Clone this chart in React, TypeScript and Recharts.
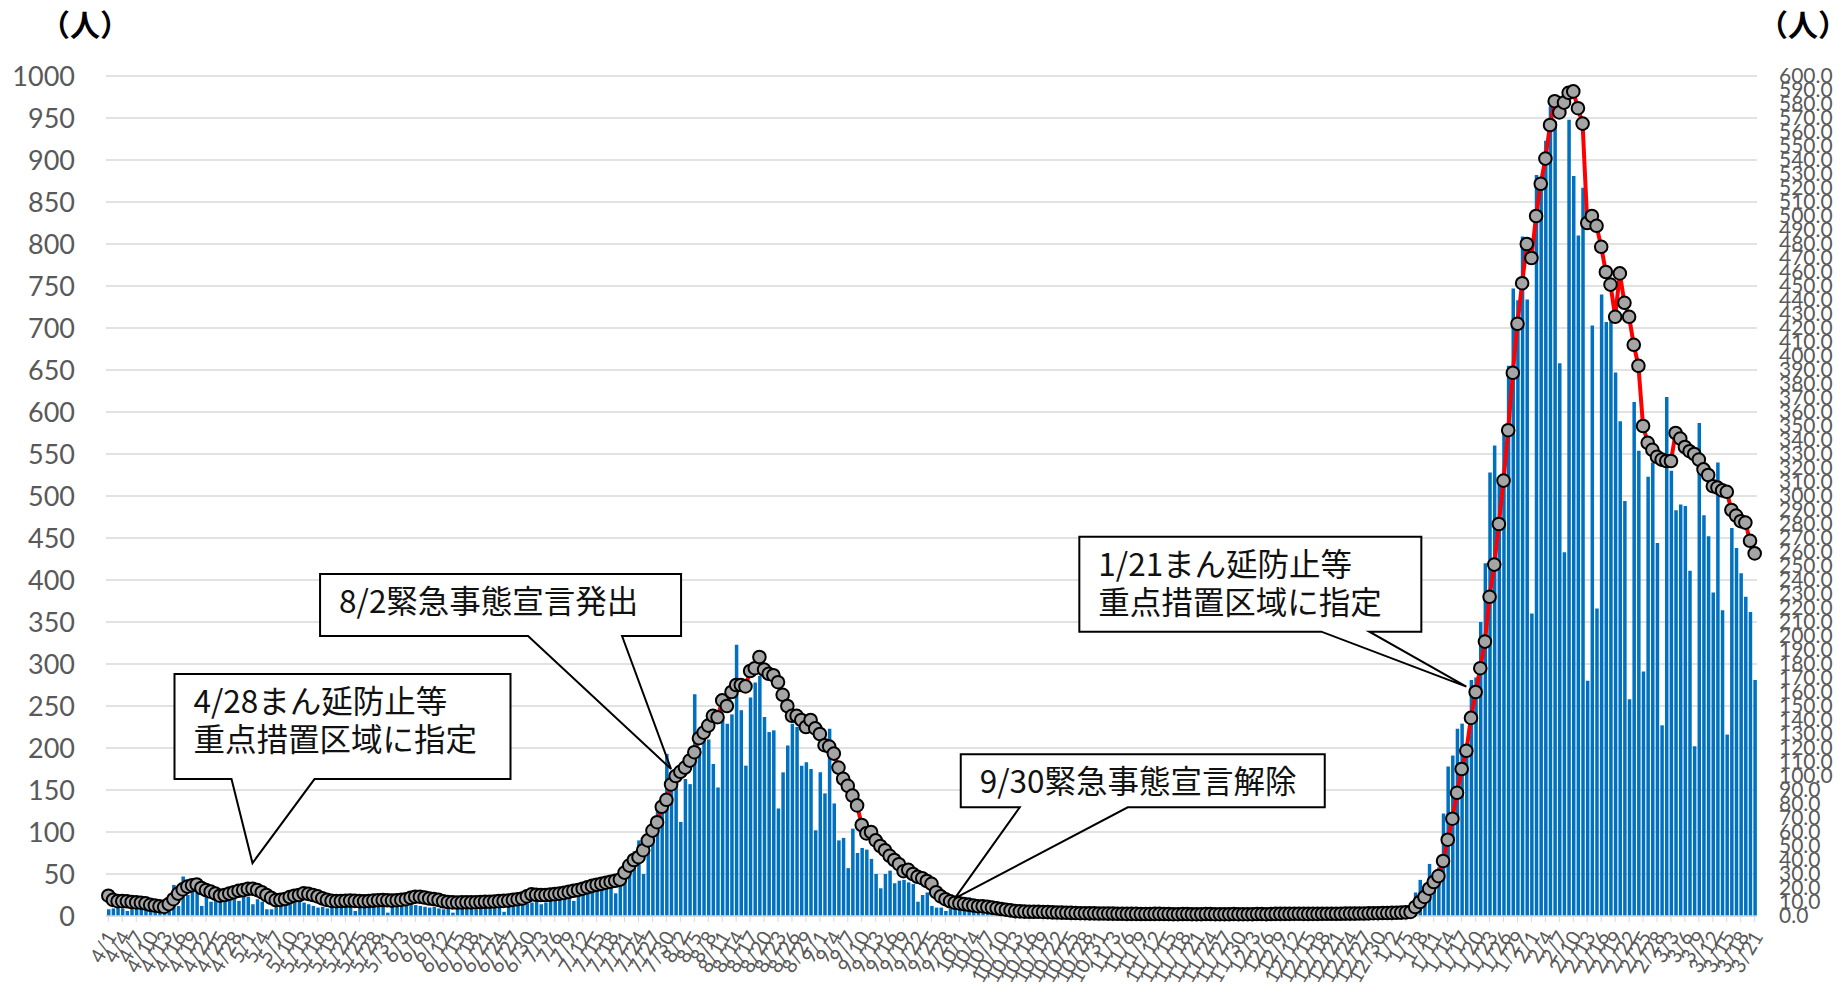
import { Bar, CartesianGrid, ComposedChart, Line, ReferenceDot, XAxis, YAxis } from "recharts"

// 2021/4/1 - 2022/3/21
const monthNums = [4, 5, 6, 7, 8, 9, 10, 11, 12, 1, 2, 3]
const monthDays = [30, 31, 30, 31, 31, 30, 31, 30, 31, 31, 28, 21]

// daily new cases (left axis)
const casesApr = [8, 9, 10, 9, 6, 9, 10, 9, 8, 7, 6, 5, 6, 8, 37, 12, 47, 25, 33, 31, 12, 26, 17, 20, 18, 22, 19, 24, 18, 25]
const casesMay = [23, 14, 20, 17, 8, 8, 15, 16, 17, 18, 16, 20, 16, 14, 12, 10, 11, 9, 12, 11, 10, 12, 11, 6, 11, 12, 10, 11, 13, 12, 4]
const casesJun = [12, 13, 11, 14, 17, 13, 12, 11, 10, 11, 9, 8, 10, 4, 11, 10, 9, 10, 8, 11, 10, 9, 11, 12, 5, 12, 11, 13, 14, 15]
const casesJul = [16, 18, 14, 16, 19, 18, 20, 22, 24, 18, 26, 30, 28, 32, 35, 38, 44, 40, 27, 55, 63, 70, 77, 90, 50, 100, 115, 132, 125, 193, 157]
const casesAug = [172, 112, 163, 157, 264, 200, 217, 210, 181, 153, 233, 229, 240, 323, 245, 179, 260, 278, 286, 237, 219, 221, 128, 171, 203, 229, 225, 179, 183, 175, 102]
const casesSep = [171, 146, 223, 134, 90, 93, 57, 104, 75, 81, 79, 68, 50, 33, 50, 54, 39, 42, 43, 40, 38, 17, 25, 28, 12, 10, 10, 6, 9, 13]
const casesOct = [8, 12, 22, 7, 6, 5, 8, 6, 5, 4, 6, 3, 5, 4, 3, 5, 2, 4, 3, 3, 2, 4, 3, 2, 1, 3, 2, 2, 1, 2, 3]
const casesNov = [1, 2, 1, 0, 2, 1, 1, 2, 0, 1, 1, 2, 1, 0, 1, 2, 1, 1, 0, 1, 2, 1, 1, 0, 2, 1, 1, 2, 1, 0]
const casesDec = [1, 2, 1, 1, 0, 2, 1, 3, 2, 1, 1, 2, 1, 2, 0, 1, 2, 2, 1, 2, 1, 2, 3, 1, 2, 3, 2, 2, 3, 4, 3]
const casesJan = [3, 4, 6, 8, 10, 15, 28, 43, 36, 62, 50, 58, 122, 178, 191, 223, 229, 205, 281, 284, 350, 420, 528, 560, 520, 574, 655, 747, 733, 809, 734]
const casesFeb = [360, 882, 867, 923, 964, 946, 658, 433, 948, 881, 810, 867, 280, 703, 366, 740, 707, 707, 647, 589, 494, 258, 612, 554, 291, 523, 540, 444]
const casesMar = [227, 618, 530, 483, 490, 488, 411, 202, 587, 477, 452, 385, 540, 364, 216, 462, 438, 408, 380, 362, 281]

// line series (right axis)
const avgApr = [14.5, 11.5, 10.6, 10.6, 10.5, 10, 9.7, 9.5, 9, 8, 7.5, 7, 6.5, 8.5, 12, 16, 19, 21, 22, 22.5, 20, 18.5, 17.4, 16, 14.5, 15, 16, 17, 18, 18.5]
const avgMay = [19.4, 19.5, 18.6, 17, 15, 13, 11.4, 11.5, 12.1, 13.5, 14.5, 15, 16.2, 15.8, 15, 14, 12.6, 11.5, 10.8, 10.6, 10.7, 10.9, 11, 10.8, 10.6, 10.5, 10.7, 11, 11.2, 11.4, 11.2]
const avgJun = [11, 11.3, 11.5, 12, 13, 13.8, 13.8, 13.2, 12.5, 12.1, 11.5, 10.5, 10, 9.7, 9.6, 9.7, 9.8, 9.7, 9.8, 10, 10.2, 10.2, 10.4, 10.6, 10.8, 11, 11.5, 12, 12.5, 14]
const avgJul = [15.5, 15.2, 15, 15, 15.3, 15.6, 16, 16.5, 17.2, 18, 18.6, 19.5, 20.5, 21.5, 22.3, 23, 23.8, 24.5, 25.2, 26, 31, 36, 40, 42, 47, 54, 61, 67, 78, 83, 94]
const avgAug = [100, 103, 106, 111, 117, 127, 131, 136, 143, 142, 154, 150, 160, 165, 165, 164, 175, 177, 185, 176, 173, 172, 167, 158, 150, 143, 143, 140, 135, 140, 134]
const avgSep = [130, 122, 121, 116, 106, 98, 93, 86, 79, 65, 59, 60, 54, 50, 47, 43, 40, 37, 32, 33, 30, 28, 27, 25, 23, 17, 14, 12, 10.5, 9.5]
const avgOct = [9, 8.5, 8, 7.5, 7, 7, 6.5, 6, 5.5, 5, 4.5, 4, 3.5, 3.3, 3.1, 3, 3, 3, 2.9, 2.8, 2.6, 2.5, 2.4, 2.3, 2.2, 2.1, 2, 2, 1.9, 1.9, 1.8]
const avgNov = [1.8, 1.7, 1.7, 1.6, 1.6, 1.5, 1.5, 1.5, 1.4, 1.4, 1.4, 1.5, 1.5, 1.4, 1.4, 1.3, 1.3, 1.4, 1.4, 1.3, 1.3, 1.3, 1.4, 1.4, 1.3, 1.3, 1.3, 1.3, 1.4, 1.3]
const avgDec = [1.3, 1.3, 1.3, 1.4, 1.4, 1.3, 1.4, 1.5, 1.5, 1.5, 1.5, 1.6, 1.6, 1.5, 1.5, 1.5, 1.5, 1.6, 1.6, 1.6, 1.6, 1.6, 1.7, 1.7, 1.7, 1.8, 1.8, 1.9, 2, 2, 2.1]
const avgJan = [2.1, 2.2, 2.3, 2.4, 2.6, 2.9, 6.4, 10, 13.6, 19.5, 24.3, 28.5, 39.3, 54.5, 69.5, 88, 105, 118, 141.5, 160, 177, 196, 228, 251, 280, 311, 347, 388, 423, 452, 480]
const avgFeb = [470, 500, 523, 541, 565, 582, 574, 581, 588, 589, 577, 566, 495, 500, 493, 478, 460, 451, 428, 459, 438, 428, 408, 393, 350, 338, 333, 328]
const avgMar = [326, 325, 325, 345, 341, 335, 332, 330, 326, 319, 315, 307, 306, 304, 303, 290, 286, 282, 281, 268, 259]

const leftTicks = [0, 50, 100, 150, 200, 250, 300, 350, 400, 450, 500, 550, 600, 650, 700, 750, 800, 850, 900, 950, 1000]
const rightTicks = Array.from({ length: 61 }, (_, k) => k * 10)

const cases = [...casesApr, ...casesMay, ...casesJun, ...casesJul, ...casesAug, ...casesSep, ...casesOct, ...casesNov, ...casesDec, ...casesJan, ...casesFeb, ...casesMar]
const avg = [...avgApr, ...avgMay, ...avgJun, ...avgJul, ...avgAug, ...avgSep, ...avgOct, ...avgNov, ...avgDec, ...avgJan, ...avgFeb, ...avgMar]
const dates = monthNums.flatMap((m, k) => Array.from({ length: monthDays[k] }, (_, d) => `${m}/${d + 1}`))
const data = dates.map((date, i) => ({ date, cases: cases[i], avg: avg[i] }))

// callouts: tip anchored on a date / left-axis value, box offset in px from the tip
const callouts = [
  { x: "5/2", y: 63, lines: ["4/28まん延防止等", "重点措置区域に指定"], dx: -78, dy: -189, w: 336, h: 105, legs: [-21, 62] },
  { x: "7/31", y: 175, lines: ["8/2緊急事態宣言発出"], dx: -351, dy: -195, w: 361, h: 62, legs: [-143, -49] },
  { x: "9/30", y: 21, lines: ["9/30緊急事態宣言解除"], dx: 6, dy: -144, w: 364, h: 53, legs: [65, 173] },
  { x: "1/18", y: 273, lines: ["1/21まん延防止等", "重点措置区域に指定"], dx: -387, dy: -150, w: 342, h: 95, legs: [-145, -97] },
]

const numFont = "Lato, 'Noto Sans', sans-serif"
const jpFont = "'Noto Sans CJK JP', sans-serif"

function DateTick({ x, y, payload }: any) {
  const tx = x + 3
  const ty = y + 9
  return (
    <text x={tx} y={ty} dy="0.35em" textAnchor="end" transform={`rotate(-60 ${tx} ${ty})`}
      fontFamily={numFont} fontSize={20} fill="#595959">
      {payload.value}
    </text>
  )
}

function makeCallout(c: (typeof callouts)[number]) {
  return (props: any) => {
    const { cx, cy } = props
    const left = cx + c.dx
    const top = cy + c.dy
    const right = left + c.w
    const bottom = top + c.h
    const l1 = cx + c.legs[0]
    const l2 = cx + c.legs[1]
    return (
      <g>
        <rect x={left} y={top} width={c.w} height={c.h} fill="#fff" />
        <path
          d={`M${l1},${bottom} L${left},${bottom} L${left},${top} L${right},${top} L${right},${bottom} L${l2},${bottom} L${cx},${cy} Z`}
          fill="none" stroke="#000" strokeWidth={2}
        />
        {c.lines.map((t, k) => (
          <text key={k} x={left + 19} y={top + 39 + k * 38} fontFamily={jpFont} fontSize={31.5} fill="#111">{t}</text>
        ))}
      </g>
    )
  }
}

const unitStyle = { position: "absolute" as const, top: 3, fontFamily: jpFont, fontSize: 30, fontWeight: 700, lineHeight: "40px", color: "#000" }

export default function App() {
  return (
    <div style={{ position: "absolute", left: 0, top: 0, width: 1848, height: 991, background: "#fff", overflow: "hidden" }}>
      <ComposedChart width={1848} height={991} data={data} margin={{ top: 76, right: 0, bottom: 0, left: 0 }}>
        <CartesianGrid yAxisId="left" vertical={false} stroke="#d9d9d9" strokeWidth={1.5} />
        <XAxis dataKey="date" interval={2} height={75} tick={<DateTick />} tickSize={6}
          axisLine={{ stroke: "#d9d9d9", strokeWidth: 1.5 }} tickLine={{ stroke: "#d9d9d9" }} />
        <YAxis yAxisId="left" domain={[0, 1000]} ticks={leftTicks} interval={0} width={106}
          axisLine={false} tickLine={false} tickSize={0} tickMargin={31}
          tick={{ fontFamily: numFont, fontSize: 27, fill: "#595959" }} />
        <YAxis yAxisId="right" orientation="right" domain={[0, 600]} ticks={rightTicks} interval={0} width={91}
          axisLine={false} tickLine={false} tickSize={0} tickMargin={22}
          tickFormatter={(v: number) => v.toFixed(1)}
          tick={{ fontFamily: numFont, fontSize: 21, fill: "#595959" }} />
        <Bar yAxisId="left" dataKey="cases" fill="#0070C0" barSize={3.5} isAnimationActive={false} />
        <Line yAxisId="right" dataKey="avg" type="linear" stroke="#FF0000" strokeWidth={4}
          dot={{ r: 6.3, fill: "#A5A5A5", stroke: "#000", strokeWidth: 2 }} isAnimationActive={false} />
        {callouts.map((c) => (
          <ReferenceDot key={c.x} yAxisId="left" x={c.x} y={c.y} r={0} shape={makeCallout(c)} />
        ))}
      </ComposedChart>
      <div style={{ ...unitStyle, left: 40 }}>（人）</div>
      <div style={{ ...unitStyle, right: 0 }}>（人）</div>
    </div>
  )
}
